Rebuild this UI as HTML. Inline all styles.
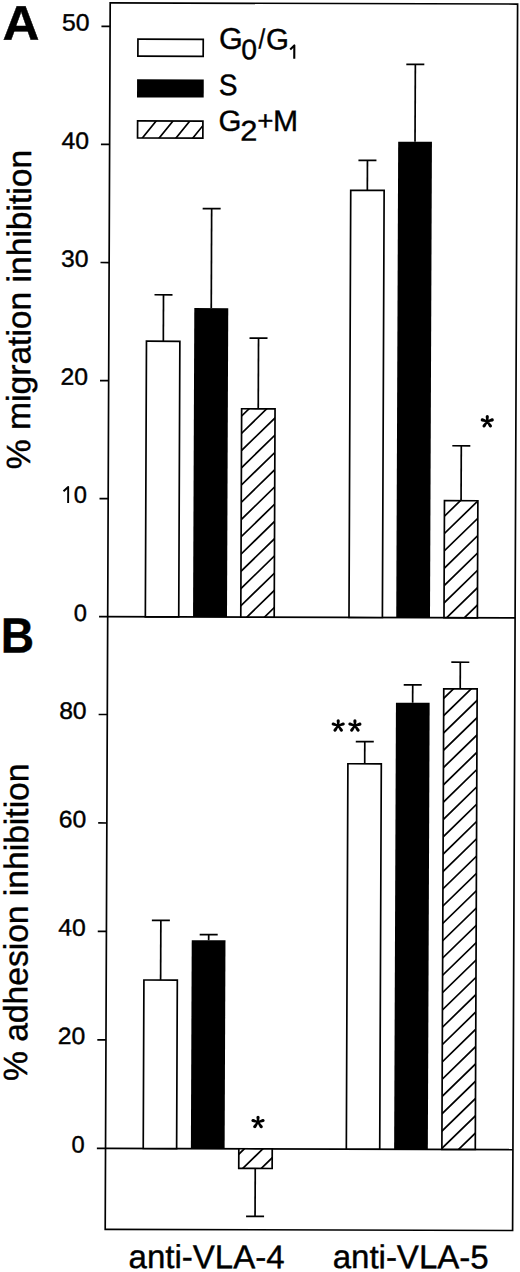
<!DOCTYPE html><html><head><meta charset="utf-8"><style>html,body{margin:0;padding:0;background:#fff;overflow:hidden;}svg{display:block;}text{font-family:"Liberation Sans",sans-serif;fill:#000;stroke:#000;stroke-width:0.4px;}</style></head><body>
<svg width="520" height="1272" viewBox="0 0 520 1272">
<rect width="520" height="1272" fill="#fff"/>
<g transform="matrix(1,0.0029,-0.00407,1,2.507,-0.905)">
<defs><clipPath id="c1"><rect x="240.80" y="408.96" width="33.40" height="208.34"/></clipPath><clipPath id="c2"><rect x="444.00" y="500.27" width="33.40" height="117.03"/></clipPath><clipPath id="c3"><rect x="241.00" y="1148.97" width="33.40" height="19.63"/></clipPath><clipPath id="c4"><rect x="444.05" y="688.47" width="33.40" height="460.50"/></clipPath><clipPath id="c5"><rect x="135.6" y="121.4" width="65.30" height="17.10"/></clipPath></defs>
<rect x="107.7" y="3.45" width="407.40" height="1226.45" fill="none" stroke="#000" stroke-width="1.7"/>
<line x1="99.05" y1="617.30" x2="515.10" y2="617.30" stroke="#000" stroke-width="1.7" stroke-linecap="butt"/>
<line x1="107.70" y1="1148.97" x2="515.10" y2="1148.97" stroke="#000" stroke-width="1.7" stroke-linecap="butt"/>
<line x1="99.05" y1="499.24" x2="107.70" y2="499.24" stroke="#000" stroke-width="1.7" stroke-linecap="butt"/>
<line x1="99.05" y1="381.18" x2="107.70" y2="381.18" stroke="#000" stroke-width="1.7" stroke-linecap="butt"/>
<line x1="99.05" y1="263.12" x2="107.70" y2="263.12" stroke="#000" stroke-width="1.7" stroke-linecap="butt"/>
<line x1="99.05" y1="145.06" x2="107.70" y2="145.06" stroke="#000" stroke-width="1.7" stroke-linecap="butt"/>
<line x1="99.05" y1="27.00" x2="107.70" y2="27.00" stroke="#000" stroke-width="1.7" stroke-linecap="butt"/>
<line x1="99.05" y1="1040.50" x2="107.70" y2="1040.50" stroke="#000" stroke-width="1.7" stroke-linecap="butt"/>
<line x1="99.05" y1="932.03" x2="107.70" y2="932.03" stroke="#000" stroke-width="1.7" stroke-linecap="butt"/>
<line x1="99.05" y1="823.57" x2="107.70" y2="823.57" stroke="#000" stroke-width="1.7" stroke-linecap="butt"/>
<line x1="99.05" y1="715.10" x2="107.70" y2="715.10" stroke="#000" stroke-width="1.7" stroke-linecap="butt"/>
<line x1="99.05" y1="1148.97" x2="107.70" y2="1148.97" stroke="#000" stroke-width="1.7" stroke-linecap="butt"/>
<line x1="162.20" y1="341.70" x2="162.20" y2="295.20" stroke="#000" stroke-width="1.7" stroke-linecap="butt"/>
<line x1="153.20" y1="295.20" x2="171.20" y2="295.20" stroke="#000" stroke-width="1.7" stroke-linecap="butt"/>
<rect x="145.35" y="341.70" width="33.4" height="275.60" fill="#fff" stroke="#000" stroke-width="1.7"/>
<line x1="210.00" y1="308.40" x2="210.00" y2="208.90" stroke="#000" stroke-width="1.7" stroke-linecap="butt"/>
<line x1="201.00" y1="208.90" x2="219.00" y2="208.90" stroke="#000" stroke-width="1.7" stroke-linecap="butt"/>
<rect x="193.05" y="308.40" width="33.95" height="308.90" fill="#000"/>
<line x1="257.40" y1="408.96" x2="257.40" y2="338.26" stroke="#000" stroke-width="1.7" stroke-linecap="butt"/>
<line x1="248.40" y1="338.26" x2="266.40" y2="338.26" stroke="#000" stroke-width="1.7" stroke-linecap="butt"/>
<rect x="240.80" y="408.96" width="33.4" height="208.34" fill="#fff"/>
<path clip-path="url(#c1)" d="M237.80 384.71L277.20 346.09M237.80 401.96L277.20 363.34M237.80 419.21L277.20 380.59M237.80 436.46L277.20 397.84M237.80 453.71L277.20 415.09M237.80 470.96L277.20 432.34M237.80 488.21L277.20 449.59M237.80 505.46L277.20 466.84M237.80 522.71L277.20 484.09M237.80 539.96L277.20 501.34M237.80 557.21L277.20 518.59M237.80 574.46L277.20 535.84M237.80 591.71L277.20 553.09M237.80 608.96L277.20 570.34M237.80 626.21L277.20 587.59M237.80 643.46L277.20 604.84M237.80 660.71L277.20 622.09M237.80 677.96L277.20 639.34" stroke="#000" stroke-width="1.7" fill="none"/>
<rect x="240.80" y="408.96" width="33.4" height="208.34" fill="none" stroke="#000" stroke-width="1.7"/>
<line x1="365.60" y1="190.24" x2="365.60" y2="160.24" stroke="#000" stroke-width="1.7" stroke-linecap="butt"/>
<line x1="356.60" y1="160.24" x2="374.60" y2="160.24" stroke="#000" stroke-width="1.7" stroke-linecap="butt"/>
<rect x="349.00" y="190.24" width="33.4" height="427.06" fill="#fff" stroke="#000" stroke-width="1.7"/>
<line x1="413.10" y1="141.40" x2="413.10" y2="64.10" stroke="#000" stroke-width="1.7" stroke-linecap="butt"/>
<line x1="404.10" y1="64.10" x2="422.10" y2="64.10" stroke="#000" stroke-width="1.7" stroke-linecap="butt"/>
<rect x="396.25" y="141.40" width="33.75" height="475.90" fill="#000"/>
<line x1="460.60" y1="500.27" x2="460.60" y2="445.37" stroke="#000" stroke-width="1.7" stroke-linecap="butt"/>
<line x1="451.60" y1="445.37" x2="469.60" y2="445.37" stroke="#000" stroke-width="1.7" stroke-linecap="butt"/>
<rect x="444.00" y="500.27" width="33.4" height="117.03" fill="#fff"/>
<path clip-path="url(#c2)" d="M441.00 484.07L480.40 445.46M441.00 501.42L480.40 462.81M441.00 518.77L480.40 480.16M441.00 536.12L480.40 497.51M441.00 553.47L480.40 514.86M441.00 570.82L480.40 532.21M441.00 588.17L480.40 549.56M441.00 605.52L480.40 566.91M441.00 622.87L480.40 584.26M441.00 640.22L480.40 601.61M441.00 657.57L480.40 618.96M441.00 674.92L480.40 636.31" stroke="#000" stroke-width="1.7" fill="none"/>
<rect x="444.00" y="500.27" width="33.4" height="117.03" fill="none" stroke="#000" stroke-width="1.7"/>
<line x1="162.10" y1="980.50" x2="162.10" y2="920.80" stroke="#000" stroke-width="1.7" stroke-linecap="butt"/>
<line x1="153.10" y1="920.80" x2="171.10" y2="920.80" stroke="#000" stroke-width="1.7" stroke-linecap="butt"/>
<rect x="145.40" y="980.50" width="33.4" height="168.47" fill="#fff" stroke="#000" stroke-width="1.7"/>
<line x1="210.00" y1="940.60" x2="210.00" y2="934.90" stroke="#000" stroke-width="1.7" stroke-linecap="butt"/>
<line x1="201.00" y1="934.90" x2="219.00" y2="934.90" stroke="#000" stroke-width="1.7" stroke-linecap="butt"/>
<rect x="193.05" y="940.60" width="33.75" height="208.37" fill="#000"/>
<line x1="257.50" y1="1168.60" x2="257.50" y2="1216.47" stroke="#000" stroke-width="1.7" stroke-linecap="butt"/>
<line x1="248.50" y1="1216.47" x2="266.50" y2="1216.47" stroke="#000" stroke-width="1.7" stroke-linecap="butt"/>
<rect x="241.00" y="1148.97" width="33.4" height="19.63" fill="#fff"/>
<path clip-path="url(#c3)" d="M238.00 1121.16L277.40 1082.55M238.00 1139.26L277.40 1100.65M238.00 1157.36L277.40 1118.75M238.00 1175.46L277.40 1136.85M238.00 1193.56L277.40 1154.95M238.00 1211.66L277.40 1173.05M238.00 1229.76L277.40 1191.15" stroke="#000" stroke-width="1.7" fill="none"/>
<rect x="241.00" y="1148.97" width="33.4" height="19.63" fill="none" stroke="#000" stroke-width="1.7"/>
<line x1="365.30" y1="763.65" x2="365.30" y2="741.45" stroke="#000" stroke-width="1.7" stroke-linecap="butt"/>
<line x1="356.30" y1="741.45" x2="374.30" y2="741.45" stroke="#000" stroke-width="1.7" stroke-linecap="butt"/>
<rect x="348.50" y="763.65" width="33.4" height="385.32" fill="#fff" stroke="#000" stroke-width="1.7"/>
<line x1="413.00" y1="702.40" x2="413.00" y2="684.60" stroke="#000" stroke-width="1.7" stroke-linecap="butt"/>
<line x1="404.00" y1="684.60" x2="422.00" y2="684.60" stroke="#000" stroke-width="1.7" stroke-linecap="butt"/>
<rect x="396.30" y="702.40" width="33.70" height="446.57" fill="#000"/>
<line x1="460.50" y1="688.47" x2="460.50" y2="661.77" stroke="#000" stroke-width="1.7" stroke-linecap="butt"/>
<line x1="451.50" y1="661.77" x2="469.50" y2="661.77" stroke="#000" stroke-width="1.7" stroke-linecap="butt"/>
<rect x="444.05" y="688.47" width="33.4" height="460.50" fill="#fff"/>
<path clip-path="url(#c4)" d="M441.05 666.30L480.45 627.69M441.05 683.61L480.45 645.00M441.05 700.92L480.45 662.31M441.05 718.23L480.45 679.62M441.05 735.54L480.45 696.93M441.05 752.85L480.45 714.24M441.05 770.16L480.45 731.55M441.05 787.47L480.45 748.86M441.05 804.78L480.45 766.17M441.05 822.09L480.45 783.48M441.05 839.40L480.45 800.79M441.05 856.71L480.45 818.10M441.05 874.02L480.45 835.41M441.05 891.33L480.45 852.72M441.05 908.64L480.45 870.03M441.05 925.95L480.45 887.34M441.05 943.26L480.45 904.65M441.05 960.57L480.45 921.96M441.05 977.88L480.45 939.27M441.05 995.19L480.45 956.58M441.05 1012.50L480.45 973.89M441.05 1029.81L480.45 991.20M441.05 1047.12L480.45 1008.51M441.05 1064.43L480.45 1025.82M441.05 1081.74L480.45 1043.13M441.05 1099.05L480.45 1060.44M441.05 1116.36L480.45 1077.75M441.05 1133.67L480.45 1095.06M441.05 1150.98L480.45 1112.37M441.05 1168.29L480.45 1129.68M441.05 1185.60L480.45 1146.99M441.05 1202.91L480.45 1164.30" stroke="#000" stroke-width="1.7" fill="none"/>
<rect x="444.05" y="688.47" width="33.4" height="460.50" fill="none" stroke="#000" stroke-width="1.7"/>
<rect x="135.6" y="39.6" width="65.30" height="17" fill="#fff" stroke="#000" stroke-width="1.7"/>
<rect x="134.9" y="79.7" width="66.70" height="18.2" fill="#000"/>
<path clip-path="url(#c5)" d="M138.79 140.50L155.79 119.40M155.59 140.50L172.59 119.40M172.39 140.50L189.39 119.40M189.19 140.50L206.19 119.40" stroke="#000" stroke-width="1.7" fill="none"/>
<rect x="135.6" y="121.4" width="65.30" height="17.10" fill="none" stroke="#000" stroke-width="1.7"/>
<text x="86.80" y="621.60" font-size="23.6" text-anchor="end">0</text>
<text x="87.0" y="385.48" font-size="23.6" text-anchor="end" textLength="27.45" lengthAdjust="spacingAndGlyphs">20</text>
<text x="87.0" y="267.42" font-size="23.6" text-anchor="end" textLength="27.45" lengthAdjust="spacingAndGlyphs">30</text>
<text x="87.0" y="149.36" font-size="23.6" text-anchor="end" textLength="27.45" lengthAdjust="spacingAndGlyphs">40</text>
<text x="87.0" y="31.30" font-size="23.6" text-anchor="end" textLength="27.45" lengthAdjust="spacingAndGlyphs">50</text>
<text x="86.4" y="503.54" font-size="23.6" text-anchor="end">0</text>
<path d="M63.00 491.94L67.66 487.64L67.66 503.74" stroke="#000" stroke-width="1.9" fill="none" stroke-linejoin="round"/>
<text x="86.80" y="1153.27" font-size="23.6" text-anchor="end">0</text>
<text x="87.0" y="1044.80" font-size="23.6" text-anchor="end" textLength="27.45" lengthAdjust="spacingAndGlyphs">20</text>
<text x="87.0" y="936.33" font-size="23.6" text-anchor="end" textLength="27.45" lengthAdjust="spacingAndGlyphs">40</text>
<text x="87.0" y="827.87" font-size="23.6" text-anchor="end" textLength="27.45" lengthAdjust="spacingAndGlyphs">60</text>
<text x="87.0" y="719.40" font-size="23.6" text-anchor="end" textLength="27.45" lengthAdjust="spacingAndGlyphs">80</text>
<text x="0.2" y="40.75" font-size="48.8" font-weight="bold" textLength="37.0" lengthAdjust="spacingAndGlyphs">A</text>
<text x="1.0" y="653.4" font-size="49.5" font-weight="bold" textLength="33.3" lengthAdjust="spacingAndGlyphs">B</text>
<text transform="translate(29.3,310.3) rotate(-90)" font-size="33.6" text-anchor="middle">% migration inhibition</text>
<text transform="translate(28.9,923.1) rotate(-90)" font-size="33.6" text-anchor="middle">% adhesion inhibition</text>
<text x="209.2" y="1268.5" font-size="33" text-anchor="middle">anti-VLA-4</text>
<text x="413.3" y="1268.0" font-size="33" text-anchor="middle">anti-VLA-5</text>
<text x="216.75" y="48.95" font-size="29.9" textLength="23.71" lengthAdjust="spacingAndGlyphs">G</text>
<text x="238.98" y="59.50" font-size="28.4" textLength="15.71" lengthAdjust="spacingAndGlyphs">0</text>
<text x="256.08" y="48.50" font-size="27.5" textLength="6.60" lengthAdjust="spacingAndGlyphs">/</text>
<text x="263.70" y="49.31" font-size="29.3" textLength="22.88" lengthAdjust="spacingAndGlyphs">G</text>
<path d="M287.90 49.45L292.00 45.45L292.00 58.75" stroke="#000" stroke-width="2.1" fill="none" stroke-linejoin="round"/>
<text x="216.56" y="95.37" font-size="29.4" textLength="18.77" lengthAdjust="spacingAndGlyphs">S</text>
<text x="216.62" y="131.15" font-size="29.2" textLength="22.88" lengthAdjust="spacingAndGlyphs">G</text>
<text x="238.25" y="140.70" font-size="28.4" textLength="17.09" lengthAdjust="spacingAndGlyphs">2</text>
<text x="255.30" y="130.15" font-size="27.5" textLength="16.17" lengthAdjust="spacingAndGlyphs">+</text>
<text x="271.04" y="131.08" font-size="29.7" textLength="25.03" lengthAdjust="spacingAndGlyphs">M</text>
<path d="M487.41 420.90L488.06 416.20A1.60 1.60 0 0 0 484.86 416.20L485.51 420.90ZM486.74 421.81L491.90 420.91A1.60 1.60 0 0 0 490.96 417.85L486.18 419.99ZM486.74 419.99L481.96 417.85A1.60 1.60 0 0 0 481.02 420.91L486.18 421.81ZM485.68 421.44L488.30 426.32A1.60 1.60 0 0 0 490.93 424.49L487.24 420.36ZM485.68 420.36L481.99 424.49A1.60 1.60 0 0 0 484.62 426.32L487.24 421.44Z" fill="#000" fill-rule="nonzero"/>
<circle cx="486.46" cy="420.90" r="1.5" fill="#000"/>
<path d="M261.01 1122.20L261.66 1117.50A1.60 1.60 0 0 0 258.46 1117.50L259.11 1122.20ZM260.34 1123.11L265.50 1122.21A1.60 1.60 0 0 0 264.56 1119.15L259.78 1121.29ZM260.34 1121.29L255.56 1119.15A1.60 1.60 0 0 0 254.62 1122.21L259.78 1123.11ZM259.28 1122.74L261.90 1127.62A1.60 1.60 0 0 0 264.53 1125.79L260.84 1121.66ZM259.28 1121.66L255.59 1125.79A1.60 1.60 0 0 0 258.22 1127.62L260.84 1122.74Z" fill="#000" fill-rule="nonzero"/>
<circle cx="260.06" cy="1122.20" r="1.5" fill="#000"/>
<path d="M339.60 725.50L340.25 720.80A1.60 1.60 0 0 0 337.05 720.80L337.70 725.50ZM338.93 726.41L344.09 725.51A1.60 1.60 0 0 0 343.15 722.45L338.37 724.59ZM338.93 724.59L334.15 722.45A1.60 1.60 0 0 0 333.21 725.51L338.37 726.41ZM337.87 726.04L340.49 730.92A1.60 1.60 0 0 0 343.12 729.09L339.43 724.96ZM337.87 724.96L334.18 729.09A1.60 1.60 0 0 0 336.81 730.92L339.43 726.04Z" fill="#000" fill-rule="nonzero"/>
<circle cx="338.65" cy="725.50" r="1.5" fill="#000"/>
<path d="M356.30 725.50L356.95 720.80A1.60 1.60 0 0 0 353.75 720.80L354.40 725.50ZM355.63 726.41L360.79 725.51A1.60 1.60 0 0 0 359.85 722.45L355.07 724.59ZM355.63 724.59L350.85 722.45A1.60 1.60 0 0 0 349.91 725.51L355.07 726.41ZM354.57 726.04L357.19 730.92A1.60 1.60 0 0 0 359.82 729.09L356.13 724.96ZM354.57 724.96L350.88 729.09A1.60 1.60 0 0 0 353.51 730.92L356.13 726.04Z" fill="#000" fill-rule="nonzero"/>
<circle cx="355.35" cy="725.50" r="1.5" fill="#000"/>
</g></svg></body></html>
